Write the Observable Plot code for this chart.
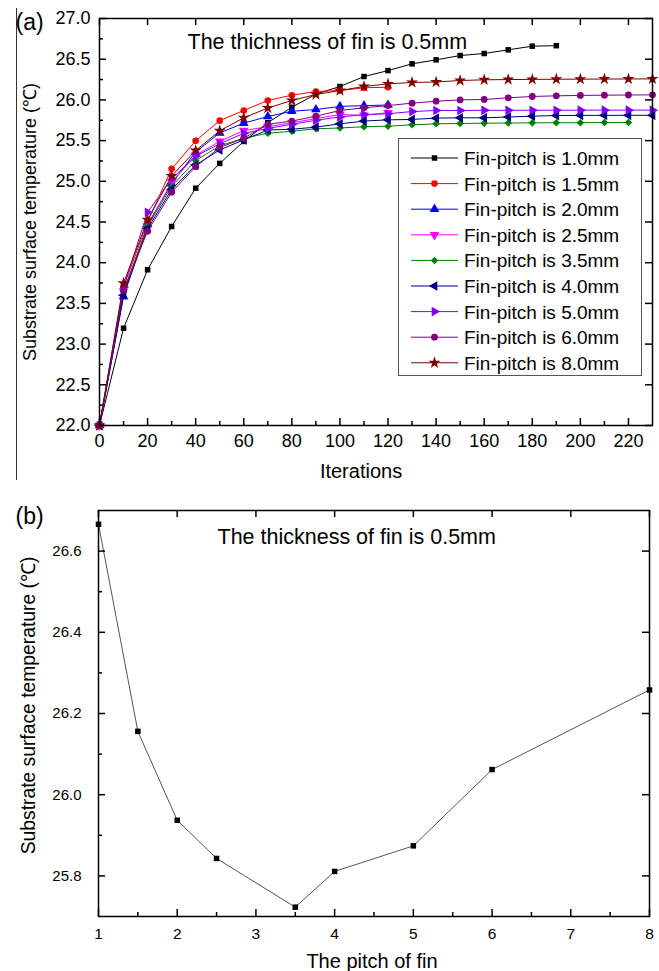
<!DOCTYPE html>
<html><head><meta charset="utf-8">
<script src="https://cdn.jsdelivr.net/npm/d3@7"></script>
<script src="https://cdn.jsdelivr.net/npm/@observablehq/plot@0.6"></script>
<style>
body{margin:0;background:#fff;}
#root{position:relative;width:659px;height:971px;overflow:hidden;font-family:"Liberation Sans",Arial,sans-serif;background:#fff;}
#a,#b{position:absolute;left:0;}
#a{top:0}
#b{top:485px}
#vline{position:absolute;left:15.5px;top:8px;width:0;height:472px;border-left:1px solid #333;}
#legend{position:absolute;left:398px;top:138px;}
</style></head><body>
<div id="root"><div id="vline"></div><div id="a"></div><div id="b"></div><div id="legend"></div></div>
<script>
// ---------- data ----------
const iterations = [0,10,20,30,40,50,60,70,80,90,100,110,120,130,140,150,160,170,180,190,200,210,220,230];
const pitchNames = ["1.0","1.5","2.0","2.5","3.5","4.0","5.0","6.0","8.0"];
const temp_1_0 = [22.0,23.195,23.913,24.445,24.915,25.22,25.49,25.72,25.91,26.07,26.165,26.287,26.36,26.443,26.492,26.545,26.57,26.615,26.66,26.666];
const temp_1_5 = [22.0,23.70,24.50,25.153,25.497,25.745,25.87,25.993,26.058,26.103,26.115,26.149,26.156];
const temp_2_0 = [22.0,23.585,24.47,24.97,25.36,25.595,25.714,25.796,25.86,25.882,25.92,25.93,25.937];
const temp_2_5 = [22.0,23.65,24.45,24.99,25.32,25.49,25.624,25.67,25.72,25.77,25.82,25.81,25.843];
const temp_3_5 = [22.0,23.64,24.45,24.94,25.256,25.435,25.53,25.59,25.615,25.645,25.655,25.67,25.677,25.694,25.706,25.71,25.714,25.716,25.718,25.72,25.72,25.722,25.723];
const temp_4_0 = [22.0,23.6,24.42,24.9,25.2,25.385,25.51,25.63,25.64,25.665,25.706,25.74,25.755,25.76,25.776,25.78,25.78,25.79,25.80,25.808,25.81,25.81,25.811,25.811];
const temp_5_0 = [22.0,23.7,24.62,25.03,25.31,25.46,25.59,25.65,25.70,25.75,25.79,25.82,25.83,25.857,25.87,25.87,25.872,25.872,25.873,25.873,25.874,25.874,25.874,25.874];
const temp_6_0 = [22.0,23.66,24.387,24.866,25.18,25.415,25.53,25.70,25.74,25.80,25.87,25.903,25.93,25.96,25.984,26.0,26.005,26.026,26.042,26.05,26.055,26.058,26.06,26.062];
const temp_8_0 = [22.0,23.748,24.527,25.065,25.378,25.62,25.78,25.90,25.993,26.066,26.115,26.165,26.197,26.214,26.22,26.238,26.247,26.25,26.252,26.254,26.255,26.256,26.257,26.258];

const pitchValues = [1,1.5,2,2.5,3.5,4,5,6,8];
const finalTemps = [26.666,26.156,25.937,25.843,25.723,25.811,25.874,26.062,26.258];

const yTicksA = [22.0,22.5,23.0,23.5,24.0,24.5,25.0,25.5,26.0,26.5,27.0];
const yMinorA = [22.25,22.75,23.25,23.75,24.25,24.75,25.25,25.75,26.25,26.75];
const xTicksA = [0,20,40,60,80,100,120,140,160,180,200,220];
const xMinorA = [10,30,50,70,90,110,130,150,170,190,210];
const yTicksB = [25.8,26.0,26.2,26.4,26.6];
const yMinorB = [25.9,26.1,26.3,26.5];
const xTicksB = [1,2,3,4,5,6,7,8];
const xMinorB = [1.5,2.5,3.5,4.5,5.5,6.5,7.5];

const titleA = "The thichness of fin is 0.5mm";
const titleB = "The thickness of fin is 0.5mm";
const yLabel = "Substrate surface temperature (\u2103)";

// ---------- styles ----------
const allTemps = [temp_1_0,temp_1_5,temp_2_0,temp_2_5,temp_3_5,temp_4_0,temp_5_0,temp_6_0,temp_8_0];
const colors = ["#000000","#ff0000","#0000ff","#ff00ff","#008000","#000080","#8000ff","#800080","#800000"];

function tri(dir){
  return {draw(ctx, size){
    const s = Math.sqrt(4*size/Math.sqrt(3)), h = s*Math.sqrt(3)/2;
    const a = 2*h/3, b = h/3, c = s/2;
    let p;
    if (dir==="up") p=[[0,-a],[c,b],[-c,b]];
    else if (dir==="down") p=[[0,a],[c,-b],[-c,-b]];
    else if (dir==="left") p=[[-a,0],[b,c],[b,-c]];
    else p=[[a,0],[-b,c],[-b,-c]];
    ctx.moveTo(p[0][0],p[0][1]); ctx.lineTo(p[1][0],p[1][1]); ctx.lineTo(p[2][0],p[2][1]); ctx.closePath();
  }};
}
const symbols = [d3.symbolSquare, d3.symbolCircle, tri("up"), tri("down"), d3.symbolDiamond2, tri("left"), tri("right"), d3.symbolCircle, d3.symbolStar];
const radii = [3.1,3.3,3.6,3.6,3.4,3.6,3.6,3.4,3.8];

const rows = [];
allTemps.forEach((arr, s) => arr.forEach((t, i) => rows.push({series: s, iter: iterations[i], temp: t})));

const FONT = "'Liberation Sans', Arial, sans-serif";

// ---------- chart (a) ----------
const WA = 659, HA = 485, mLA = 99, mRA = 7, mTA = 18, mBA = 60;
const pwA = WA - mLA - mRA, phA = HA - mTA - mBA;
const seriesMarks = [];
allTemps.forEach((arr, s) => {
  const d = rows.filter(r => r.series === s);
  seriesMarks.push(Plot.line(d, {x: "iter", y: "temp", stroke: colors[s], strokeWidth: 1}));
});
allTemps.forEach((arr, s) => {
  const d = rows.filter(r => r.series === s);
  seriesMarks.push(Plot.dot(d, {x: "iter", y: "temp", fill: colors[s], stroke: "none", symbol: symbols[s], r: radii[s]}));
});

const chartA = Plot.plot({
  width: WA, height: HA, marginLeft: mLA, marginRight: mRA, marginTop: mTA, marginBottom: mBA,
  x: {domain: [0, 230]}, y: {domain: [22, 27]},
  style: {fontFamily: FONT, fontSize: "18px", color: "#000", background: "transparent", overflow: "visible"},
  marks: [
    Plot.axisY(yTicksA, {tickSize: 0, tickPadding: 9, tickFormat: d => d.toFixed(1), label: null, fontSize: 18}),
    Plot.axisX(xTicksA, {tickSize: 0, tickPadding: 9, label: null, fontSize: 18}),
    ...seriesMarks,
    Plot.tickY(yTicksA, {y: d => d, insetRight: pwA - 7, stroke: "#000", strokeWidth: 1.5}),
    Plot.tickY(yMinorA, {y: d => d, insetRight: pwA - 4, stroke: "#000", strokeWidth: 1.5}),
    Plot.tickY(yTicksA, {y: d => d, insetLeft: pwA - 7, stroke: "#000", strokeWidth: 1.5}),
    Plot.tickX(xTicksA, {x: d => d, insetTop: phA - 7, stroke: "#000", strokeWidth: 1.5}),
    Plot.tickX(xMinorA, {x: d => d, insetTop: phA - 4, stroke: "#000", strokeWidth: 1.5}),
    Plot.tickX(xTicksA, {x: d => d, insetBottom: phA - 7, stroke: "#000", strokeWidth: 1.5}),
    Plot.frame({stroke: "#000", strokeWidth: 1.5}),
    Plot.text([titleA], {text: d => d, frameAnchor: "top-left", dx: 88, dy: 30, textAnchor: "start", lineAnchor: "bottom", fontSize: 21.5}),
    Plot.text(["(a)"], {text: d => d, frameAnchor: "top-left", dx: -84, dy: 11, textAnchor: "start", lineAnchor: "bottom", fontSize: 23}),
    Plot.text(["Iterations"], {text: d => d, frameAnchor: "bottom", dx: -15, dy: 52, textAnchor: "middle", lineAnchor: "bottom", fontSize: 20}),
    Plot.text([yLabel], {text: d => d, frameAnchor: "left", dx: -69, rotate: -90, textAnchor: "middle", lineAnchor: "middle", fontSize: 18})
  ]
});
document.getElementById("a").appendChild(chartA);

// ---------- legend ----------
const lg = d3.create("svg").attr("width", 245).attr("height", 239).style("font-family", FONT);
lg.append("rect").attr("x", 0.5).attr("y", 0.5).attr("width", 243).attr("height", 237).attr("fill", "#fff").attr("stroke", "#555").attr("stroke-width", 1);
pitchNames.forEach((name, i) => {
  const y = 20 + i * 25.6;
  lg.append("line").attr("x1", 13).attr("x2", 60).attr("y1", y).attr("y2", y).attr("stroke", colors[i]).attr("stroke-width", 1);
  lg.append("path").attr("transform", `translate(36.5,${y})`).attr("d", d3.symbol(symbols[i], Math.PI * radii[i] * radii[i])()).attr("fill", colors[i]);
  lg.append("text").attr("x", 66).attr("y", y + 7).attr("font-size", 19).attr("fill", "#000").text(`Fin-pitch is ${name}mm`);
});
document.getElementById("legend").appendChild(lg.node());

// ---------- chart (b) ----------
const WB = 659, HB = 486, mLB = 98, mRB = 10, mTB = 25, mBB = 55;
const pwB = WB - mLB - mRB, phB = HB - mTB - mBB;
const rowsB = pitchValues.map((p, i) => ({pitch: p, temp: finalTemps[i]}));
const chartB = Plot.plot({
  width: WB, height: HB, marginLeft: mLB, marginRight: mRB, marginTop: mTB, marginBottom: mBB,
  x: {domain: [1, 8]}, y: {domain: [25.7, 26.7]},
  style: {fontFamily: FONT, fontSize: "15px", color: "#000", background: "transparent", overflow: "visible"},
  marks: [
    Plot.axisY(yTicksB, {tickSize: 0, tickPadding: 17, tickFormat: d => d.toFixed(1), label: null, fontSize: 15}),
    Plot.axisX(xTicksB, {tickSize: 0, tickPadding: 11, label: null, fontSize: 15.5}),
    Plot.line(rowsB, {x: "pitch", y: "temp", stroke: "#555", strokeWidth: 1}),
    Plot.dot(rowsB, {x: "pitch", y: "temp", fill: "#000", stroke: "none", symbol: "square", r: 3.1}),
    Plot.tickY(yTicksB, {y: d => d, insetRight: pwB - 7, stroke: "#000", strokeWidth: 1.5}),
    Plot.tickY(yMinorB, {y: d => d, insetRight: pwB - 4, stroke: "#000", strokeWidth: 1.5}),
    Plot.tickY(yTicksB, {y: d => d, insetLeft: pwB - 7, stroke: "#000", strokeWidth: 1.5}),
    Plot.tickX(xTicksB, {x: d => d, insetTop: phB - 7, stroke: "#000", strokeWidth: 1.5}),
    Plot.tickX(xMinorB, {x: d => d, insetTop: phB - 4, stroke: "#000", strokeWidth: 1.5}),
    Plot.tickX(xTicksB, {x: d => d, insetBottom: phB - 7, stroke: "#000", strokeWidth: 1.5}),
    Plot.frame({stroke: "#000", strokeWidth: 1.5}),
    Plot.text([titleB], {text: d => d, frameAnchor: "top-left", dx: 119, dy: 33, textAnchor: "start", lineAnchor: "bottom", fontSize: 21.5}),
    Plot.text(["(b)"], {text: d => d, frameAnchor: "top-left", dx: -83, dy: 13, textAnchor: "start", lineAnchor: "bottom", fontSize: 23}),
    Plot.text(["The pitch of fin"], {text: d => d, frameAnchor: "bottom", dx: -2, dy: 51, textAnchor: "middle", lineAnchor: "bottom", fontSize: 20}),
    Plot.text([yLabel], {text: d => d, frameAnchor: "left", dx: -70, dy: -8, rotate: -90, textAnchor: "middle", lineAnchor: "middle", fontSize: 19.3})
  ]
});
document.getElementById("b").appendChild(chartB);
</script>
</body></html>
